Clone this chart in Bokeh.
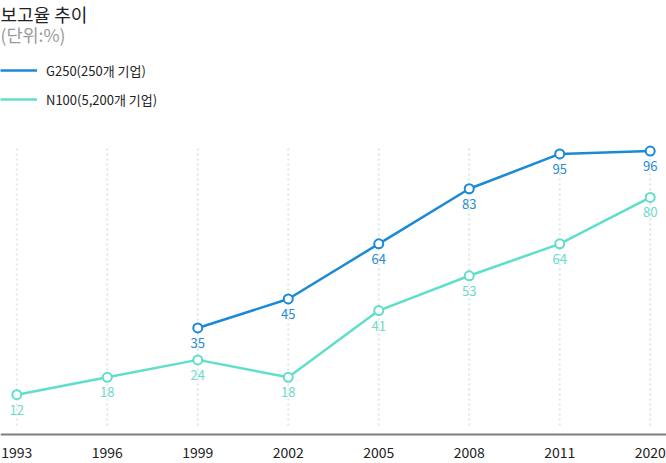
from bokeh.plotting import figure
from bokeh.models import FactorRange, Range1d, Label, Legend, LegendItem, ColumnDataSource
from bokeh.core.properties import value
from bokeh.embed import file_html
from bokeh.resources import INLINE

years = ["1993", "1996", "1999", "2002", "2005", "2008", "2011", "2020"]
g250_years = ["1999", "2002", "2005", "2008", "2011", "2020"]
g250_values = [35, 45, 64, 83, 95, 96]
n100_years = ["1993", "1996", "1999", "2002", "2005", "2008", "2011", "2020"]
n100_values = [12, 18, 24, 18, 41, 53, 64, 80]

title_text = "보고율 추이"
unit_text = "(단위:%)"
g250_label = "G250(250개 기업)"
n100_label = "N100(5,200개 기업)"

BLUE = "#1b8ad6"
TEAL = "#5fdfcb"
FONT = "Noto Sans CJK KR"

FW, FH = 666, 463
p = figure(frame_width=FW, frame_height=FH, output_backend="svg", toolbar_location=None,
           x_range=FactorRange(*years, range_padding=-0.32, range_padding_units="absolute"),
           y_range=Range1d(-11.72, 147.9),
           min_border_left=0, min_border_right=0, min_border_top=0, min_border_bottom=0)
p.outline_line_color = None
p.background_fill_color = "white"
p.border_fill_color = "white"
p.yaxis.visible = False
p.ygrid.visible = False
p.xgrid.visible = False

ax = p.xaxis[0]
ax.fixed_location = -1.72
ax.axis_line_color = "#7f7f7f"
ax.axis_line_width = 2
ax.major_tick_line_color = None
ax.minor_tick_line_color = None
ax.major_tick_out = 0
ax.major_tick_in = 0
ax.minor_tick_out = 0
ax.major_label_standoff = 13
ax.major_label_text_font = FONT
ax.major_label_text_font_size = "14px"
ax.major_label_text_color = "#222222"

# dotted vertical guides
p.segment(x0=years, y0=[1.4] * len(years), x1=years, y1=[97.6] * len(years),
          line_color="#dfe6e6", line_width=2, line_dash="2 3")

g_src = ColumnDataSource(dict(x=g250_years, y=g250_values, t=[str(v) for v in g250_values]))
n_src = ColumnDataSource(dict(x=n100_years, y=n100_values, t=[str(v) for v in n100_values]))

n_line = p.line("x", "y", source=n_src, line_color=TEAL, line_width=2.5)
g_line = p.line("x", "y", source=g_src, line_color=BLUE, line_width=2.5)
p.scatter("x", "y", source=n_src, size=9, line_color=TEAL, line_width=2, fill_color="white")
p.scatter("x", "y", source=g_src, size=9, line_color=BLUE, line_width=2, fill_color="white")

p.text("x", "y", text="t", source=n_src, y_offset=15, text_align="center", text_baseline="middle",
       text_font=value(FONT), text_font_size="13px", text_color="#6adbc9")
p.text("x", "y", text="t", source=g_src, y_offset=15, text_align="center", text_baseline="middle",
       text_font=value(FONT), text_font_size="13px", text_color="#2a8ad4")

p.add_layout(Label(x=0, y=FH, x_units="screen", y_units="screen", text=title_text,
                   text_baseline="top", text_font=FONT, text_font_size="18px", text_color="#222222"))
p.add_layout(Label(x=0, y=FH - 21, x_units="screen", y_units="screen", text=unit_text,
                   text_baseline="top", text_font=FONT, text_font_size="17.5px", text_color="#9a9a9a"))

legend = Legend(items=[LegendItem(label=g250_label, renderers=[g_line]),
                       LegendItem(label=n100_label, renderers=[n_line])],
                location=(0, FH - 109), orientation="vertical",
                glyph_width=37, glyph_height=20, label_height=20, label_standoff=9, spacing=9,
                padding=0, margin=0, border_line_color=None, background_fill_alpha=0,
                label_text_font=FONT, label_text_font_size="13px", label_text_color="#222222")
p.add_layout(legend)

open("out.html", "w").write(file_html(p, INLINE))
